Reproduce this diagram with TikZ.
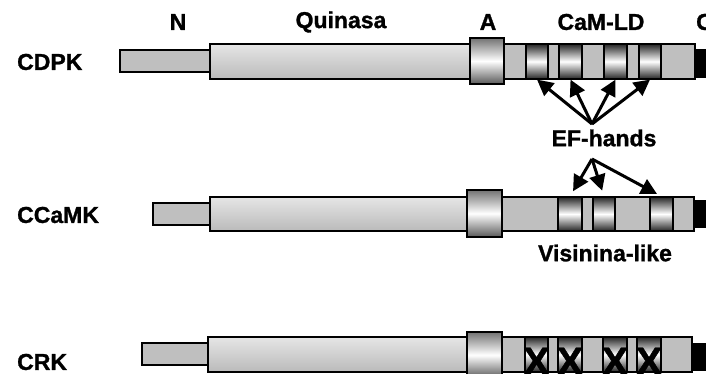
\documentclass[tikz,border=0pt]{standalone}
\usepackage{fontspec}
\setmainfont{Liberation Sans}[BoldFeatures={FakeBold=1.2}]
\usetikzlibrary{arrows.meta}

\begin{document}
\begin{tikzpicture}[x=1pt,y=-1pt]
		\tikzstyle{box}=[rectangle,draw=black,line width=1.2pt,inner sep=0pt]
		\tikzstyle{stub}=[box,fill=black!25]
		\tikzstyle{kin}=[box,top color=black!10,bottom color=black!27]
		\tikzstyle{cam}=[box,fill=black!25]
		\tikzstyle{hinge}=[box,top color=black!55,bottom color=black!65,middle color=white]
		\tikzstyle{ef}=[box,top color=black!85,bottom color=black!85,middle color=white]
		\tikzstyle{cend}=[rectangle,fill=black,inner sep=0pt]
		\tikzstyle{lbl}=[font=\bfseries\fontsize{23}{27}\selectfont,inner sep=0pt]
		\tikzstyle{arr}=[line width=3pt,-{Triangle[length=16pt,width=16pt]}]
		\useasboundingbox (0,0) rectangle (706,374);

		% domain names
		\node[lbl] (n)      at (178,22) {N};
		\node[lbl] (quin)   at (341,22) {Quinasa};
		\node[lbl] (a)      at (488,22) {A};
		\node[lbl] (camld)  at (601,22) {CaM-LD};
		\node[lbl,anchor=west] (c) at (696,22) {C};

		% CDPK
		\node[lbl,anchor=west] (cdpk) at (17,62) {CDPK};
		\node[stub,minimum width=90pt,minimum height=22pt]  (cdpk-n)   at (165,61) {};
		\node[kin,minimum width=260pt,minimum height=35pt]  (cdpk-kin) at (340,61.5) {};
		\node[cend,minimum width=17pt,minimum height=29pt]  (cdpk-c)   at (703.5,63.5) {};
		\node[cam,minimum width=191pt,minimum height=35pt]  (cdpk-cam) at (599.5,61.5) {};
		\node[ef,minimum width=22pt,minimum height=35pt]    (cdpk-ef1) at (537,61.5) {};
		\node[ef,minimum width=23pt,minimum height=35pt]    (cdpk-ef2) at (570.5,61.5) {};
		\node[ef,minimum width=23pt,minimum height=35pt]    (cdpk-ef3) at (615.5,61.5) {};
		\node[ef,minimum width=22pt,minimum height=35pt]    (cdpk-ef4) at (650,61.5) {};
		\node[hinge,minimum width=34pt,minimum height=46pt] (cdpk-a)   at (487,61) {};

		% CCaMK
		\node[lbl,anchor=west] (ccamk) at (17,215) {CCaMK};
		\node[stub,minimum width=57pt,minimum height=22pt]  (ccamk-n)   at (181.5,214) {};
		\node[kin,minimum width=257pt,minimum height=34pt]  (ccamk-kin) at (338.5,214) {};
		\node[cend,minimum width=18pt,minimum height=28pt]  (ccamk-c)   at (703,214) {};
		\node[cam,minimum width=192pt,minimum height=34pt]  (ccamk-cam) at (598,214) {};
		\node[ef,minimum width=24pt,minimum height=34pt]    (ccamk-ef1) at (570,214) {};
		\node[ef,minimum width=22pt,minimum height=34pt]    (ccamk-ef2) at (604,214) {};
		\node[ef,minimum width=23pt,minimum height=34pt]    (ccamk-ef3) at (661.5,214) {};
		\node[hinge,minimum width=35pt,minimum height=47pt] (ccamk-a)   at (484.5,213.5) {};

		% CRK
		\node[lbl,anchor=west] (crk) at (17,362) {CRK};
		\node[stub,minimum width=66pt,minimum height=22pt]  (crk-n)   at (175,354) {};
		\node[kin,minimum width=259pt,minimum height=35pt]  (crk-kin) at (337.5,354.5) {};
		\node[cend,minimum width=20pt,minimum height=28pt]  (crk-c)   at (702,357) {};
		\node[cam,minimum width=190pt,minimum height=35pt]  (crk-cam) at (597,354.5) {};
		\node[ef,minimum width=23pt,minimum height=35pt]    (crk-ef1) at (536.5,354.5) {};
		\node[ef,minimum width=24pt,minimum height=35pt]    (crk-ef2) at (570,354.5) {};
		\node[ef,minimum width=24pt,minimum height=35pt]    (crk-ef3) at (615,354.5) {};
		\node[ef,minimum width=24pt,minimum height=35pt]    (crk-ef4) at (649,354.5) {};
		\node[hinge,minimum width=35pt,minimum height=46pt] (crk-a)   at (484.5,355) {};
		% knocked-out EF-hands
		\tikzstyle{cross}=[font=\bfseries\fontsize{40}{42}\selectfont,inner sep=0pt]
		\node[cross] (x1) at ([yshift=-7pt]crk-ef1) {X};
		\node[cross] (x2) at ([yshift=-7pt]crk-ef2) {X};
		\node[cross] (x3) at ([yshift=-7pt]crk-ef3) {X};
		\node[cross] (x4) at ([yshift=-7pt]crk-ef4) {X};

		% EF-hand pointers
		\node[lbl] (efhands)  at (604,138) {EF-hands};
		\node[lbl] (visinina) at (605,253) {Visinina-like};
		\coordinate (efup)   at (592,124);
		\coordinate (efdown) at (592,159);
		\draw[arr] (efup) -- (cdpk-ef1.south);
		\draw[arr] (efup) -- (cdpk-ef2.south);
		\draw[arr] (efup) -- (cdpk-ef3.south);
		\draw[arr] (efup) -- (cdpk-ef4.south);
		\draw[arr,shorten >=6pt] (efdown) -- (ccamk-ef1.north);
		\draw[arr,shorten >=6pt] (efdown) -- (ccamk-ef2.north);
		\draw[arr,shorten >=5pt] (efdown) -- (ccamk-ef3.north);
\end{tikzpicture}
\end{document}
